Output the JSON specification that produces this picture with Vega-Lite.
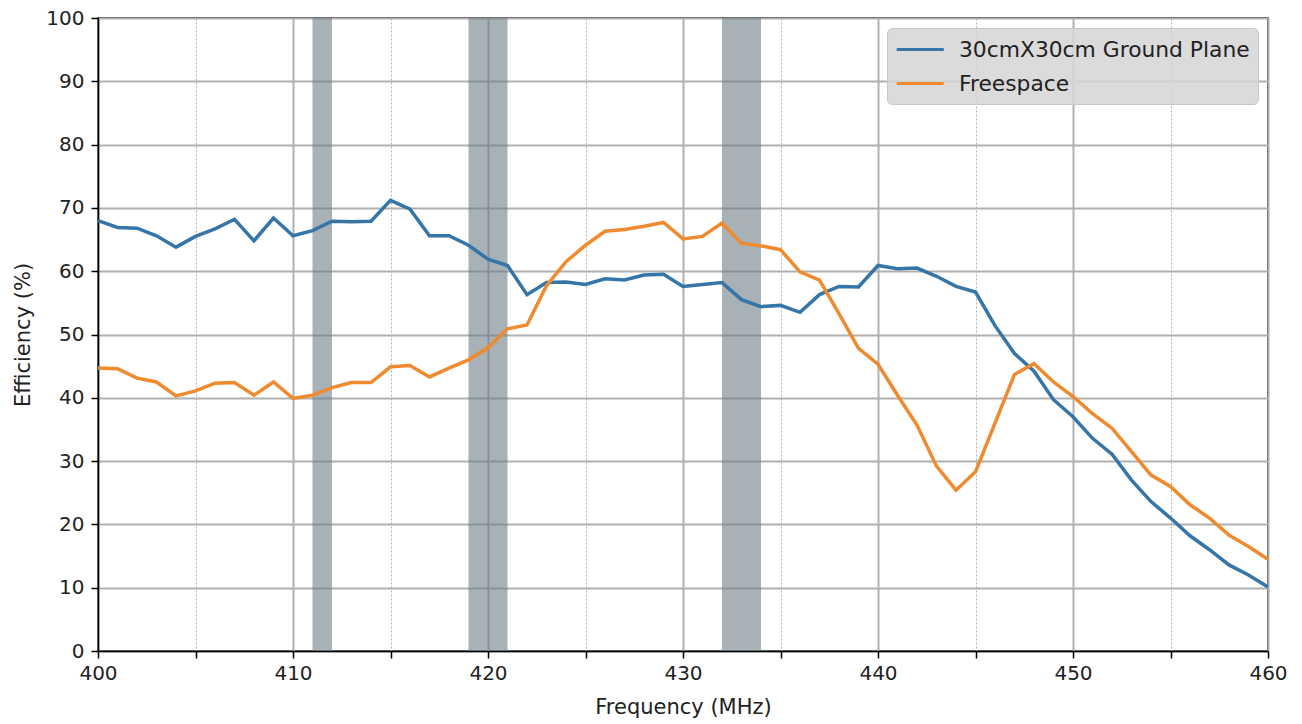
{
  "$schema": "https://vega.github.io/schema/vega-lite/v6.json",
  "width": 1170,
  "height": 633,
  "autosize": {"type": "none"},
  "padding": {"left": 98, "top": 18, "right": 34, "bottom": 73},
  "background": "white",
  "config": {"view": {"stroke": "black", "strokeWidth": 1.5}, "font": "DejaVu Sans"},
  "datasets": {
    "bands": [{"start": 411, "end": 412}, {"start": 419, "end": 421}, {"start": 432, "end": 434}],
    "eff": [
      {"f":400,"s":"30cmX30cm Ground Plane","e":68.0},{"f":401,"s":"30cmX30cm Ground Plane","e":66.9},{"f":402,"s":"30cmX30cm Ground Plane","e":66.8},{"f":403,"s":"30cmX30cm Ground Plane","e":65.6},{"f":404,"s":"30cmX30cm Ground Plane","e":63.8},{"f":405,"s":"30cmX30cm Ground Plane","e":65.5},{"f":406,"s":"30cmX30cm Ground Plane","e":66.7},{"f":407,"s":"30cmX30cm Ground Plane","e":68.2},{"f":408,"s":"30cmX30cm Ground Plane","e":64.8},{"f":409,"s":"30cmX30cm Ground Plane","e":68.4},
      {"f":410,"s":"30cmX30cm Ground Plane","e":65.6},{"f":411,"s":"30cmX30cm Ground Plane","e":66.4},{"f":412,"s":"30cmX30cm Ground Plane","e":67.9},{"f":413,"s":"30cmX30cm Ground Plane","e":67.8},{"f":414,"s":"30cmX30cm Ground Plane","e":67.9},{"f":415,"s":"30cmX30cm Ground Plane","e":71.2},{"f":416,"s":"30cmX30cm Ground Plane","e":69.8},{"f":417,"s":"30cmX30cm Ground Plane","e":65.6},{"f":418,"s":"30cmX30cm Ground Plane","e":65.6},{"f":419,"s":"30cmX30cm Ground Plane","e":64.1},
      {"f":420,"s":"30cmX30cm Ground Plane","e":61.9},{"f":421,"s":"30cmX30cm Ground Plane","e":60.9},{"f":422,"s":"30cmX30cm Ground Plane","e":56.3},{"f":423,"s":"30cmX30cm Ground Plane","e":58.2},{"f":424,"s":"30cmX30cm Ground Plane","e":58.3},{"f":425,"s":"30cmX30cm Ground Plane","e":57.9},{"f":426,"s":"30cmX30cm Ground Plane","e":58.8},{"f":427,"s":"30cmX30cm Ground Plane","e":58.6},{"f":428,"s":"30cmX30cm Ground Plane","e":59.4},{"f":429,"s":"30cmX30cm Ground Plane","e":59.5},
      {"f":430,"s":"30cmX30cm Ground Plane","e":57.6},{"f":431,"s":"30cmX30cm Ground Plane","e":57.9},{"f":432,"s":"30cmX30cm Ground Plane","e":58.2},{"f":433,"s":"30cmX30cm Ground Plane","e":55.5},{"f":434,"s":"30cmX30cm Ground Plane","e":54.4},{"f":435,"s":"30cmX30cm Ground Plane","e":54.6},{"f":436,"s":"30cmX30cm Ground Plane","e":53.5},{"f":437,"s":"30cmX30cm Ground Plane","e":56.3},{"f":438,"s":"30cmX30cm Ground Plane","e":57.6},{"f":439,"s":"30cmX30cm Ground Plane","e":57.5},
      {"f":440,"s":"30cmX30cm Ground Plane","e":60.9},{"f":441,"s":"30cmX30cm Ground Plane","e":60.4},{"f":442,"s":"30cmX30cm Ground Plane","e":60.5},{"f":443,"s":"30cmX30cm Ground Plane","e":59.2},{"f":444,"s":"30cmX30cm Ground Plane","e":57.6},{"f":445,"s":"30cmX30cm Ground Plane","e":56.7},{"f":446,"s":"30cmX30cm Ground Plane","e":51.4},{"f":447,"s":"30cmX30cm Ground Plane","e":47.0},{"f":448,"s":"30cmX30cm Ground Plane","e":44.2},{"f":449,"s":"30cmX30cm Ground Plane","e":39.7},
      {"f":450,"s":"30cmX30cm Ground Plane","e":37.0},{"f":451,"s":"30cmX30cm Ground Plane","e":33.6},{"f":452,"s":"30cmX30cm Ground Plane","e":31.1},{"f":453,"s":"30cmX30cm Ground Plane","e":27.0},{"f":454,"s":"30cmX30cm Ground Plane","e":23.6},{"f":455,"s":"30cmX30cm Ground Plane","e":21.0},{"f":456,"s":"30cmX30cm Ground Plane","e":18.2},{"f":457,"s":"30cmX30cm Ground Plane","e":16.0},{"f":458,"s":"30cmX30cm Ground Plane","e":13.6},{"f":459,"s":"30cmX30cm Ground Plane","e":12.0},{"f":460,"s":"30cmX30cm Ground Plane","e":10.1},
      {"f":400,"s":"Freespace","e":44.7},{"f":401,"s":"Freespace","e":44.6},{"f":402,"s":"Freespace","e":43.1},{"f":403,"s":"Freespace","e":42.5},{"f":404,"s":"Freespace","e":40.3},{"f":405,"s":"Freespace","e":41.1},{"f":406,"s":"Freespace","e":42.3},{"f":407,"s":"Freespace","e":42.4},{"f":408,"s":"Freespace","e":40.4},{"f":409,"s":"Freespace","e":42.5},
      {"f":410,"s":"Freespace","e":39.9},{"f":411,"s":"Freespace","e":40.4},{"f":412,"s":"Freespace","e":41.6},{"f":413,"s":"Freespace","e":42.4},{"f":414,"s":"Freespace","e":42.4},{"f":415,"s":"Freespace","e":44.9},{"f":416,"s":"Freespace","e":45.1},{"f":417,"s":"Freespace","e":43.3},{"f":418,"s":"Freespace","e":44.7},{"f":419,"s":"Freespace","e":46.0},
      {"f":420,"s":"Freespace","e":47.9},{"f":421,"s":"Freespace","e":50.9},{"f":422,"s":"Freespace","e":51.5},{"f":423,"s":"Freespace","e":57.7},{"f":424,"s":"Freespace","e":61.5},{"f":425,"s":"Freespace","e":64.1},{"f":426,"s":"Freespace","e":66.3},{"f":427,"s":"Freespace","e":66.6},{"f":428,"s":"Freespace","e":67.1},{"f":429,"s":"Freespace","e":67.7},
      {"f":430,"s":"Freespace","e":65.1},{"f":431,"s":"Freespace","e":65.5},{"f":432,"s":"Freespace","e":67.6},{"f":433,"s":"Freespace","e":64.4},{"f":434,"s":"Freespace","e":64.0},{"f":435,"s":"Freespace","e":63.4},{"f":436,"s":"Freespace","e":59.9},{"f":437,"s":"Freespace","e":58.6},{"f":438,"s":"Freespace","e":53.3},{"f":439,"s":"Freespace","e":47.8},
      {"f":440,"s":"Freespace","e":45.3},{"f":441,"s":"Freespace","e":40.4},{"f":442,"s":"Freespace","e":35.7},{"f":443,"s":"Freespace","e":29.2},{"f":444,"s":"Freespace","e":25.4},{"f":445,"s":"Freespace","e":28.3},{"f":446,"s":"Freespace","e":36.0},{"f":447,"s":"Freespace","e":43.7},{"f":448,"s":"Freespace","e":45.4},{"f":449,"s":"Freespace","e":42.5},
      {"f":450,"s":"Freespace","e":40.2},{"f":451,"s":"Freespace","e":37.5},{"f":452,"s":"Freespace","e":35.2},{"f":453,"s":"Freespace","e":31.5},{"f":454,"s":"Freespace","e":27.8},{"f":455,"s":"Freespace","e":26.0},{"f":456,"s":"Freespace","e":23.1},{"f":457,"s":"Freespace","e":21.0},{"f":458,"s":"Freespace","e":18.3},{"f":459,"s":"Freespace","e":16.5},{"f":460,"s":"Freespace","e":14.5}
    ]
  },
  "layer": [
    {
      "data": {"name": "bands"},
      "mark": {"type": "rect", "color": "#6e7d85", "opacity": 0.6},
      "encoding": {
        "x": {"field": "start", "type": "quantitative", "scale": {"domain": [400, 460], "nice": false, "zero": false},
          "axis": {"title": "Frequency (MHz)", "values": [400,405,410,415,420,425,430,435,440,445,450,455,460], "format": "d",
            "labelExpr": "datum.value % 10 === 0 ? datum.label : ''", "labelFlush": false, "labelOverlap": false,
            "grid": true, "gridColor": "#b0b0b0",
            "gridWidth": {"condition": {"test": "datum.value % 10 !== 0", "value": 1}, "value": 2},
            "gridDash": {"condition": {"test": "datum.value % 10 !== 0", "value": [2, 2]}, "value": []},
            "domainColor": "black", "domainWidth": 1.5, "tickColor": "black", "tickWidth": 1.5, "tickSize": 7,
            "labelFontSize": 20, "labelColor": "#222", "labelPadding": 5,
            "titleFontSize": 21, "titleFontWeight": "normal", "titleColor": "#222", "titlePadding": 13}},
        "x2": {"field": "end"},
        "y": {"datum": 0, "type": "quantitative"},
        "y2": {"datum": 100}
      }
    },
    {
      "data": {"name": "eff"},
      "mark": {"type": "line", "strokeWidth": 3.5},
      "encoding": {
        "x": {"field": "f", "type": "quantitative", "scale": {"domain": [400, 460], "nice": false, "zero": false},
          "axis": {"title": "Frequency (MHz)", "values": [400,405,410,415,420,425,430,435,440,445,450,455,460], "format": "d",
            "labelExpr": "datum.value % 10 === 0 ? datum.label : ''", "labelFlush": false, "labelOverlap": false,
            "grid": true, "gridColor": "#b0b0b0",
            "gridWidth": {"condition": {"test": "datum.value % 10 !== 0", "value": 1}, "value": 2},
            "gridDash": {"condition": {"test": "datum.value % 10 !== 0", "value": [2, 2]}, "value": []},
            "domainColor": "black", "domainWidth": 1.5, "tickColor": "black", "tickWidth": 1.5, "tickSize": 7,
            "labelFontSize": 20, "labelColor": "#222", "labelPadding": 5,
            "titleFontSize": 21, "titleFontWeight": "normal", "titleColor": "#222", "titlePadding": 13}},
        "y": {"field": "e", "type": "quantitative", "scale": {"domain": [0, 100], "nice": false},
          "axis": {"title": "Efficiency (%)", "values": [0,10,20,30,40,50,60,70,80,90,100], "grid": true, "gridColor": "#b0b0b0", "gridWidth": 2,
            "domainColor": "black", "domainWidth": 1.5, "tickColor": "black", "tickWidth": 1.5, "tickSize": 7,
            "labelFontSize": 20, "labelColor": "#222", "labelPadding": 7,
            "titleFontSize": 21, "titleFontWeight": "normal", "titleColor": "#222", "titlePadding": 12}},
        "color": {"field": "s", "type": "nominal",
          "scale": {"domain": ["30cmX30cm Ground Plane", "Freespace"], "range": ["#3575a8", "#f08a2e"]},
          "legend": {"title": null, "orient": "top-right", "offset": 10, "fillColor": "rgba(214,214,214,0.88)", "strokeColor": "#c8c8c8",
            "cornerRadius": 5, "padding": 8, "labelFontSize": 21.8, "labelColor": "#222", "labelOffset": 37, "labelLimit": 500,
            "symbolType": "M-1,0H3", "symbolSize": 552, "symbolStrokeWidth": 3, "rowPadding": 8}}
      }
    }
  ]
}
